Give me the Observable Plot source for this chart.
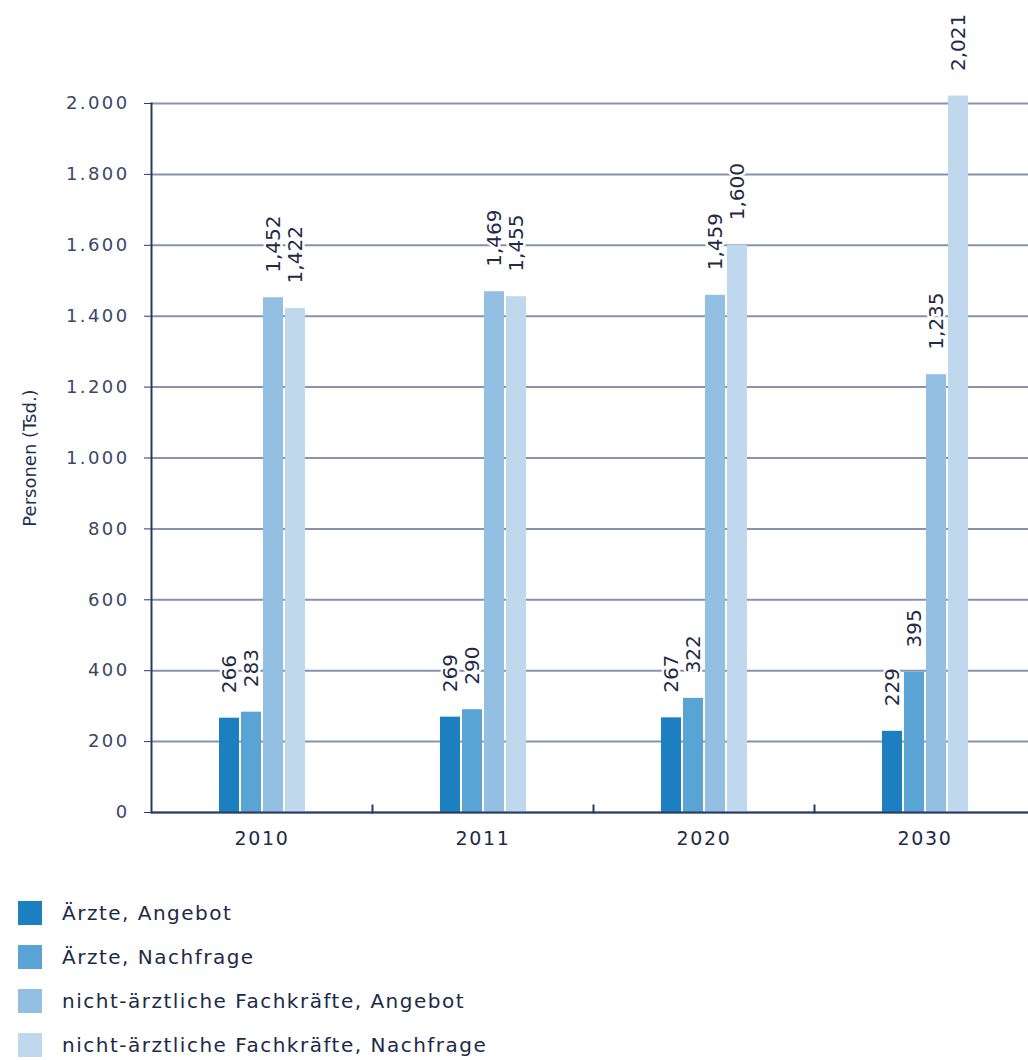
<!DOCTYPE html>
<html>
<head>
<meta charset="utf-8">
<script src="https://cdn.jsdelivr.net/npm/d3@7"></script>
<script src="https://cdn.jsdelivr.net/npm/@observablehq/plot@0.6"></script>
<style>
  html, body { margin: 0; padding: 0; background: #fff; overflow: hidden; }
  #chart svg { overflow: visible; }
  .chart g[aria-label="y-axis tick label"] text { letter-spacing: 2.4px; }
  .chart g[aria-label="fx-axis tick label"] text { letter-spacing: 1.7px; }
  .chart g[aria-label="y-axis label"] text { font-size: 18px; letter-spacing: 0px; fill: #22304f; }
  #legend { margin-top: 21px; padding-left: 18px; font-family: "DejaVu Sans", sans-serif; font-size: 20px; letter-spacing: 1.5px; color: #1c2a48; }
  #legend .row { display: flex; align-items: center; height: 44px; }
  #legend .sw { width: 24px; height: 24px; margin-right: 20px; flex: none; }
</style>
</head>
<body>
<div id="chart"></div>
<div id="legend"></div>
<script>
const years = ["2010", "2011", "2020", "2030"];
const series = [
  "Ärzte, Angebot",
  "Ärzte, Nachfrage",
  "nicht-ärztliche Fachkräfte, Angebot",
  "nicht-ärztliche Fachkräfte, Nachfrage"
];
const aerzteAngebot = [266, 269, 267, 229];
const aerzteNachfrage = [283, 290, 322, 395];
const fachkraefteAngebot = [1452, 1469, 1459, 1235];
const fachkraefteNachfrage = [1422, 1455, 1600, 2021];
const yTicks = [0, 200, 400, 600, 800, 1000, 1200, 1400, 1600, 1800, 2000];
const colors = ["#1b7fc0", "#5aa4d5", "#93c0e2", "#c0d8ee"];

const seriesValues = [aerzteAngebot, aerzteNachfrage, fachkraefteAngebot, fachkraefteNachfrage];
const table = years.flatMap((year, i) =>
  series.map((s, j) => ({year, series: s, value: seriesValues[j][i]}))
);

const navy = "#2a3b60";
const deLocale = d3.formatLocale({decimal: ",", thousands: ".", grouping: [3], currency: ["", " €"]});
const fmtTick = deLocale.format(",");
const fmtVal = d3.format(",");

const chart = Plot.plot({
  width: 1028,
  height: 870,
  marginTop: 103,
  marginBottom: 58,
  marginLeft: 150,
  marginRight: 0,
  className: "chart",
  style: {fontFamily: "'DejaVu Sans', sans-serif", background: "white", overflow: "visible"},
  fx: {domain: years, range: [150, 1035], padding: 0, axis: null},
  x: {domain: series, axis: null, paddingInner: 0.1, paddingOuter: 0, inset: 67},
  y: {domain: [0, 2000], axis: null},
  color: {domain: series, range: colors},
  marks: [
    Plot.gridY(yTicks, {stroke: "#8593ae", strokeOpacity: 1, strokeWidth: 2}),
    Plot.barY(table, {fx: "year", x: "series", y: "value", fill: "series"}),
    Plot.ruleY([0], {stroke: navy, strokeWidth: 2}),
    Plot.frame({anchor: "right", stroke: navy, strokeWidth: 2, insetTop: 702}),
    Plot.frame({anchor: "left", facet: "super", stroke: navy, strokeWidth: 2}),
    Plot.axisY(yTicks, {
      tickSize: 7, tickPadding: 15, tickFormat: fmtTick, fontSize: 18,
      stroke: navy, fill: "#3a4764",
      label: "Personen (Tsd.)", labelAnchor: "center", labelArrow: "none", labelOffset: 128
    }),
    Plot.axisFx({anchor: "bottom", tickSize: 0, tickPadding: 19, fontSize: 19, fill: "#1f2b47", label: null}),
    Plot.text(table, {
      fx: "year", x: "series", y: "value",
      text: d => fmtVal(d.value),
      rotate: -90, textAnchor: "start", lineAnchor: "middle", dy: -25,
      fontSize: 20, fill: "#1f2b47", stroke: "white", strokeWidth: 5
    })
  ]
});
document.getElementById("chart").appendChild(chart);

const legend = document.getElementById("legend");
series.forEach((s, i) => {
  const row = document.createElement("div");
  row.className = "row";
  const sw = document.createElement("span");
  sw.className = "sw";
  sw.style.background = colors[i];
  const label = document.createElement("span");
  label.textContent = s;
  row.appendChild(sw);
  row.appendChild(label);
  legend.appendChild(row);
});
</script>
</body>
</html>
